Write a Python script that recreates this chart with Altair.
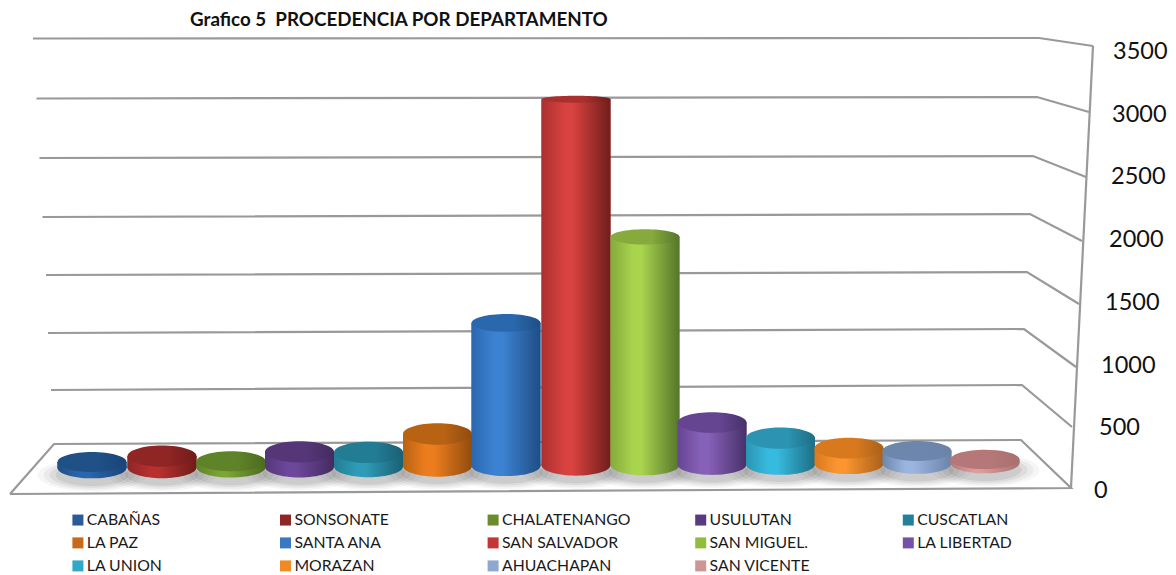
import altair as alt
import pandas as pd

# ---- data ----
CATEGORIES = ["CABAÑAS", "SONSONATE", "CHALATENANGO", "USULUTAN", "CUSCATLAN", "LA PAZ", "SANTA ANA",
              "SAN SALVADOR", "SAN MIGUEL.", "LA LIBERTAD", "LA UNION", "MORAZAN", "AHUACHAPAN", "SAN VICENTE"]
VALUES = [50, 96, 50, 125, 117, 267, 1190, 3050, 1900, 350, 217, 130, 104, 29]
AXIS_VALUES = [3500, 3000, 2500, 2000, 1500, 1000, 500, 0]

# ---- colours ----
TOP = ["#1f5086", "#8f2525", "#5f8328", "#553778", "#227c94", "#b86214", "#2a68ae",
       "#aa3030", "#86aa3c", "#654592", "#2c94b2", "#d8791e", "#6d86ab", "#b57777"]
MID = ["#2a66ad", "#b83030", "#7ba534", "#6d479c", "#2e9cb8", "#ec7d1e", "#3c82d2",
       "#d8423f", "#a8d44e", "#8760b8", "#36bbe0", "#fb9530", "#9bb5e0", "#dc9c9c"]
DARK = ["#1b4478", "#701c1a", "#4c6b1e", "#432b60", "#1a6074", "#914c0e", "#1f4e84",
        "#6f1e1c", "#55752a", "#48316a", "#1f6d84", "#a9601a", "#6c83a8", "#a87070"]
SWATCH = ["#2a5b96", "#8f2626", "#6a8c2c", "#573a80", "#23809a", "#c9691a", "#3a78c4",
          "#c43636", "#92bc3e", "#7950a8", "#31a8c8", "#f08a24", "#8fa8cf", "#cf9595"]
RY = [0.29, 0.31, 0.29, 0.31, 0.31, 0.31, 0.26, 0.10, 0.22, 0.30, 0.31, 0.30, 0.29, 0.28]

FONT = "Lato"
W, H = 1160, 566
Y0, K = 465.0, 0.12            # page y of value 0, pixels per unit
# perspective spreads the bars unevenly along the floor
BAR_CENTRES = [92, 162, 231, 299.5, 368.5, 437.5, 506, 576, 645, 712, 780.5, 849, 917, 985]


def sx(px):
    return px - 8.0


def vy(py):
    return (Y0 - py) / K


X_SCALE = alt.Scale(domain=[0, W], range=[0, W], nice=False, zero=False, padding=0)
Y_SCALE = alt.Scale(domain=[vy(8 + H), vy(8)], range=[H, 0], nice=False, zero=False, padding=0)
# value axis on the front edge of the wall
AX_K = (491 - 52) / 3500
AX_SCALE = alt.Scale(domain=[(491 - (8 + H)) / AX_K, (491 - 8) / AX_K], range=[H, 0], nice=False, zero=False)
xe = lambda f="x": alt.X(f"{f}:Q", scale=X_SCALE, axis=None)
ye = lambda f="y": alt.Y(f"{f}:Q", scale=Y_SCALE, axis=None)

# ---- perspective frame of the 3-D chart ----
WALL_LEFT = [(33, 38.5), (36.5, 98.5), (39.5, 158), (42.5, 217), (46, 275), (48, 333), (51, 390)]
WALL_BACK = [(1039, 38), (1037, 97), (1033, 156), (1030, 214), (1027, 272), (1024, 329), (1022, 385)]
WALL_FRONT = [(1093, 46), (1089, 112), (1086, 177), (1082, 241), (1079, 304), (1076, 367), (1072, 427)]
FLOOR = [(10, 494), (54, 444), (1021, 440), (1071, 488), (10, 494)]
EDGE = [(1093, 46), (1071, 488)]

rows = []
for n, tri in enumerate(zip(WALL_LEFT, WALL_BACK, WALL_FRONT)):
    for o, p in enumerate(tri):
        rows.append({"g": f"w{n}", "o": o, "x": sx(p[0]), "y": vy(p[1])})
for o, p in enumerate(FLOOR):
    rows.append({"g": "floor", "o": o, "x": sx(p[0]), "y": vy(p[1])})
for o, p in enumerate(EDGE):
    rows.append({"g": "edge", "o": o, "x": sx(p[0]), "y": vy(p[1])})
frame = alt.Chart(pd.DataFrame(rows)).mark_line(color="#999999", strokeWidth=2.2, strokeJoin="miter").encode(
    x=xe(), y=ye(), detail="g:N", order="o:Q")


def ellipse(r):
    return f"M-1,0A1,{r} 0 1 1 1,0A1,{r} 0 1 1 -1,0Z"


def side_gradient(i):
    return alt.Gradient(gradient="linear", x1=0, x2=1, y1=0, y2=0, stops=[
        alt.GradientStop(color=TOP[i], offset=0),
        alt.GradientStop(color=MID[i], offset=0.33),
        alt.GradientStop(color=MID[i], offset=0.45),
        alt.GradientStop(color=DARK[i], offset=1),
    ])


def top_gradient(i):
    return alt.Gradient(gradient="linear", x1=0, x2=1, y1=0, y2=0, stops=[
        alt.GradientStop(color=TOP[i], offset=0),
        alt.GradientStop(color=TOP[i], offset=0.6),
        alt.GradientStop(color=DARK[i], offset=1),
    ])


bases = [vy(468 - 5 * i / 13) for i in range(len(CATEGORIES))]
df = pd.DataFrame({"cat": CATEGORIES, "x": [sx(c) for c in BAR_CENTRES], "value": VALUES, "base": bases})
df["top"] = df["base"] + df["value"]
df["shadow"] = df["base"] - 7 / K

# soft shadow on the floor
shadow_layers = []
for extra, op in [(40, 0.05), (28, 0.07), (16, 0.09), (4, 0.11)]:
    shadow_layers.append(alt.Chart(df).mark_point(
        shape=ellipse(0.3), size=(69 + extra) ** 2, filled=True, fill="#555555", opacity=op, strokeWidth=0
    ).encode(x=xe(), y=ye("shadow")))

# solid bars carry the legend; gradients are painted on top of them
solid = alt.Chart(df).mark_bar(size=69, orient="vertical").encode(
    x=xe(), y=ye("top"), y2=alt.Y2("base:Q"),
    color=alt.Color("cat:N", scale=alt.Scale(domain=CATEGORIES, range=SWATCH), sort=None, legend=alt.Legend(
        title=None, orient="none", legendX=62, legendY=504, columns=5, direction="horizontal",
        gridAlign="all", symbolType="square", symbolSize=121, symbolStrokeWidth=0, symbolOpacity=1,
        labelFont=FONT, labelFontSize=15.8, labelColor="#1a1a1a", labelOffset=1,
        columnPadding=61.6, rowPadding=6, labelLimit=200)))

cyl_layers = []
for i in range(len(CATEGORIES)):
    d = df.iloc[[i]]
    foot = alt.Chart(d).mark_point(shape=ellipse(RY[i] if RY[i] > 0.29 else 0.3), size=69 ** 2, filled=True,
                                   fill=side_gradient(i), opacity=1, strokeWidth=0).encode(x=xe(), y=ye("base"))
    body = alt.Chart(d).mark_bar(size=69, orient="vertical", fill=side_gradient(i)).encode(
        x=xe(), y=ye("top"), y2=alt.Y2("base:Q"))
    cap = alt.Chart(d).mark_point(shape=ellipse(RY[i]), size=69 ** 2, filled=True,
                                  fill=top_gradient(i), opacity=1, strokeWidth=0).encode(x=xe(), y=ye("top"))
    cyl_layers += [foot, body, cap]

# value labels of the wall
AXIS_LABEL_X = [1113, 1112, 1111, 1109, 1105, 1101, 1099, 1094]
axis_df = pd.DataFrame({"v": AXIS_VALUES, "x": [sx(p) for p in AXIS_LABEL_X], "t": [str(v) for v in AXIS_VALUES]})
axis_labels = alt.Chart(axis_df).mark_text(font=FONT, fontSize=23.5, align="left", baseline="middle",
                                           color="#111111").encode(
    x=xe(), y=alt.Y("v:Q", scale=AX_SCALE, axis=None), text="t:N")

chart = alt.layer(frame, *shadow_layers, solid, *cyl_layers, axis_labels).resolve_scale(y="independent").properties(
    width=W, height=H, padding=0, autosize=alt.AutoSizeParams(type="none"), background="white",
    title=alt.TitleParams("Grafico 5 \u00a0PROCEDENCIA POR DEPARTAMENTO", anchor="start", frame="group", dx=182, dy=22,
                          offset=0, font=FONT, fontSize=18.8, fontWeight="bold", color="#111111")
).configure_view(stroke=None)

chart.save("out.html", embed_options={"renderer": "svg", "actions": False})
